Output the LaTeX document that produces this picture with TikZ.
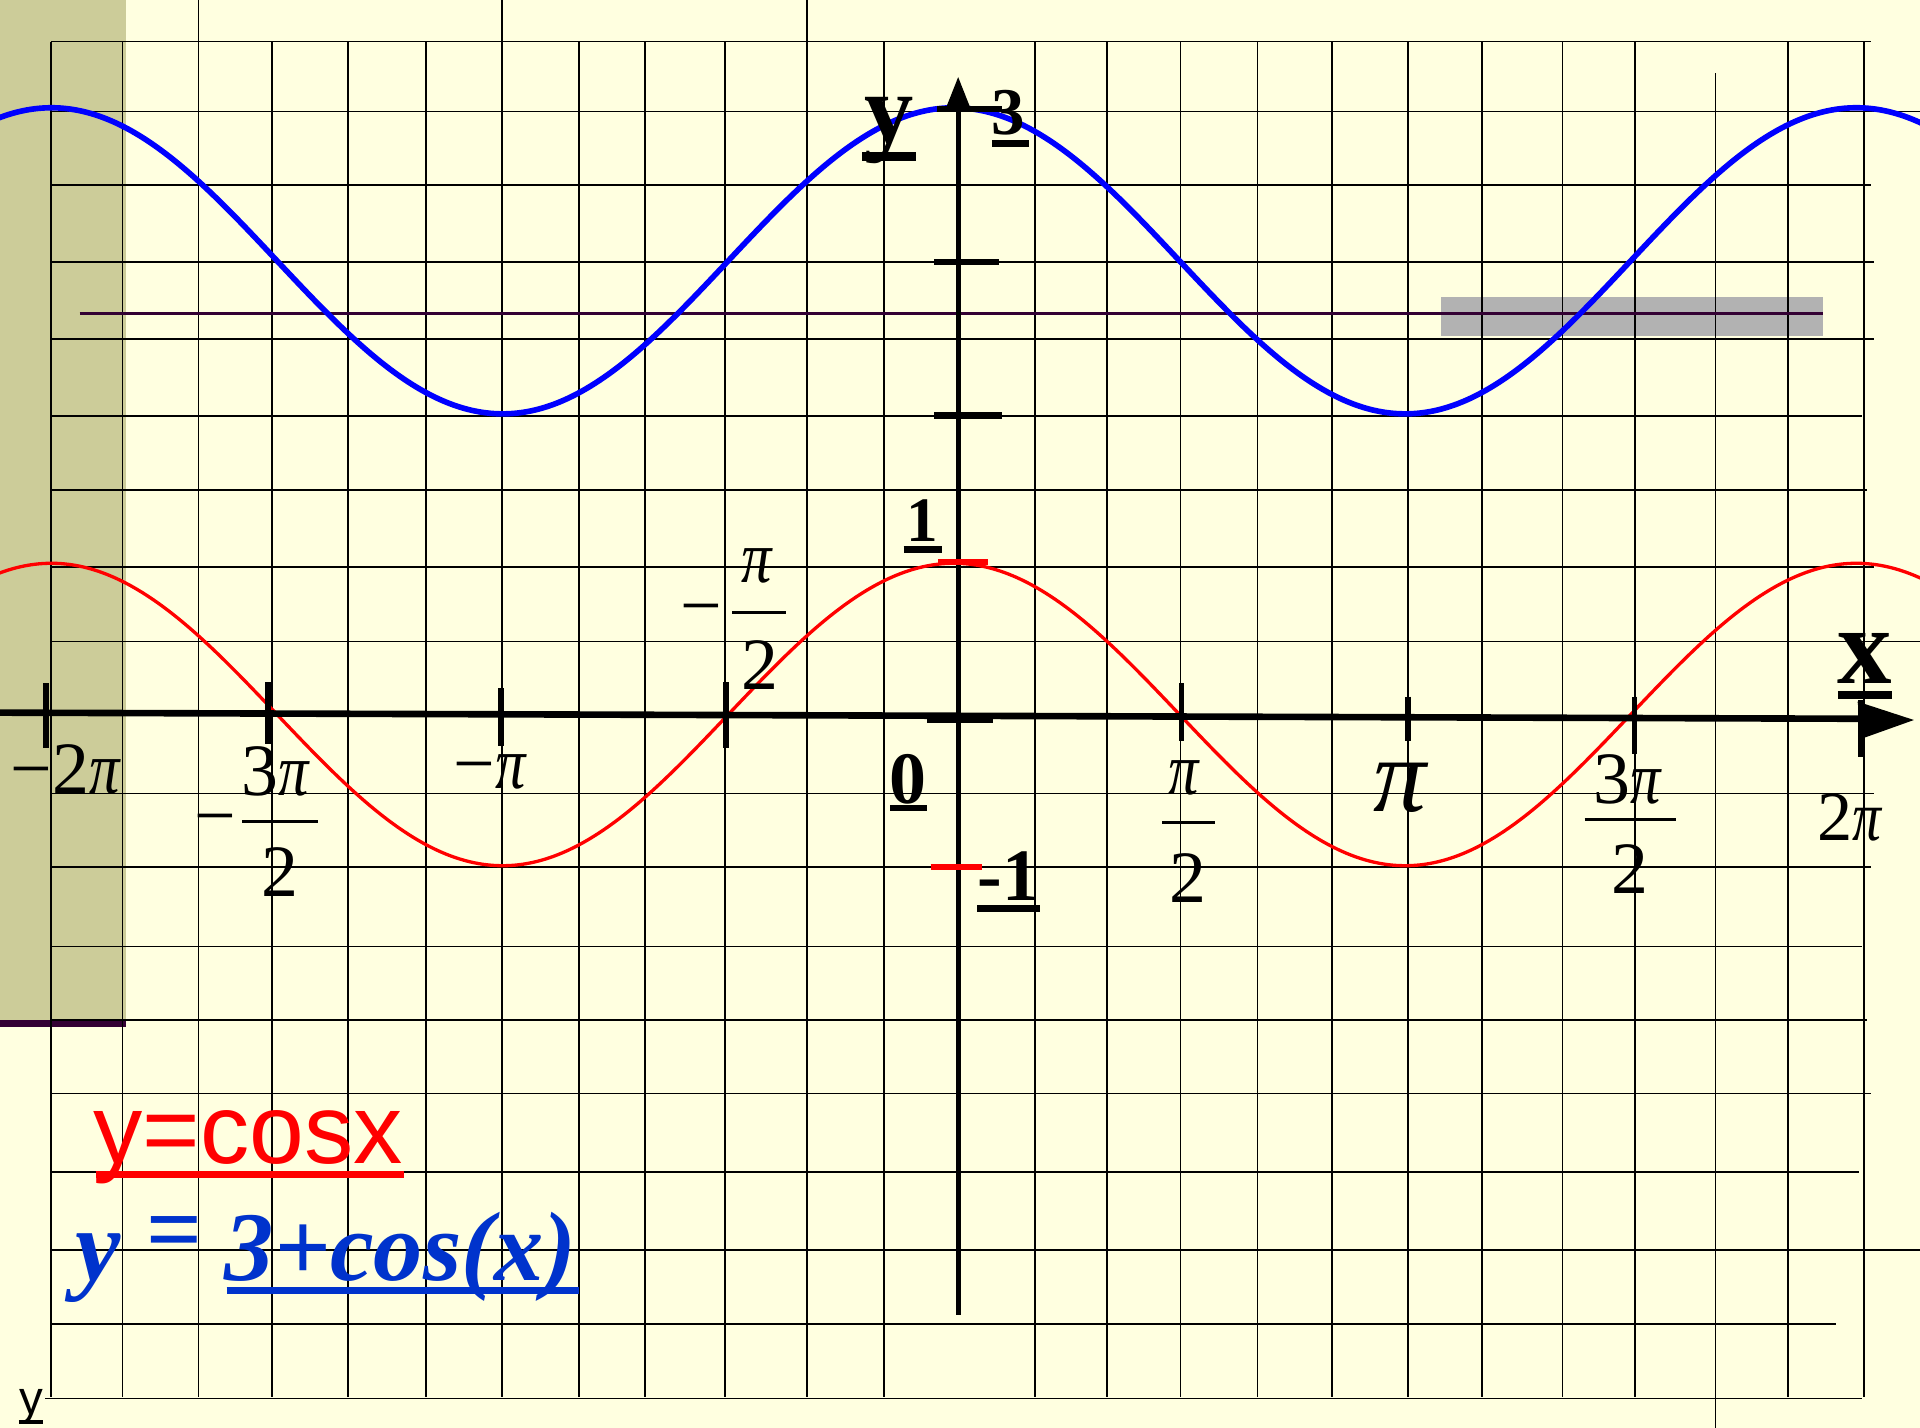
\documentclass[tikz,border=0pt]{standalone}
\usepackage{fontspec}
\usepackage{graphicx}
\setmainfont{Liberation Serif}
\newfontfamily\arialfont{Liberation Sans}
\definecolor{bgc}{HTML}{FFFFE0}
\definecolor{panelc}{HTML}{CCCC99}
\definecolor{purplec}{HTML}{330033}
\definecolor{grayc}{HTML}{B2B2B2}
\definecolor{legblue}{HTML}{0033CC}
\newcommand{\myfs}[1]{\fontsize{#1}{#1}\selectfont}
\newcommand{\mypi}{\scalebox{0.82}[1]{\itshape π}}
\begin{document}
\begin{tikzpicture}[x=0.0122449cm, y=-0.0122449cm,
  gridline/.style={black, line width=0.48pt},
  tickline/.style={black, line width=1.57pt},
  ybar/.style={line width=1.9pt},
  fracbar/.style={black, line width=0.8pt},
  uline/.style={black, line width=1.88pt},
  lbl/.style={inner sep=0pt, anchor=base},
  lblw/.style={inner sep=0pt, anchor=base west}]
\useasboundingbox (0,0) rectangle (1568,1166);
\fill[bgc] (0,0) rectangle (1568,1166);
% left panel
\fill[panelc] (0,0) rectangle (103,836);
\draw[purplec, line width=1.95pt] (0,836) -- (103,836);
% grey band
\fill[grayc] (1177,242.5) rectangle (1489,274.5);
% grid: vertical lines
\foreach \gx/\ta/\tb in {41.5/34/1141, 100/34/1141, 162/0/1141, 222/34/1141, 284/34/1141,
  348/34/1141, 410/0/1141, 473/34/1141, 527/34/1141, 592/34/1141, 659/0/1141,
  722/34/1141, 845/34/1141, 904/34/1141, 964/34/1141, 1027/34/1141, 1088/34/1141,
  1150/34/1141, 1210/34/1141, 1276/34/1141, 1335/34/1141, 1401/60/1166,
  1460/34/1141, 1522/34/1141}
  \draw[gridline] (\gx,\ta) -- (\gx,\tb);
% grid: horizontal lines
\foreach \gy/\xa/\xb in {34/41.5/1528, 91/41.5/1568, 151/41.5/1528, 214/41.5/1530,
  277/41.5/1530, 340/41.5/1521, 400/41.5/1525, 463/41.5/1530, 524/41.5/1568,
  648/41.5/1530, 708/41.5/1528, 773/41.5/1521, 833/41.5/1525, 893/41.5/1528,
  957/41.5/1518, 1021/41.5/1568, 1081/41.5/1499, 1142/37/1521}
  \draw[gridline] (\xa,\gy) -- (\xb,\gy);
% dark horizontal line
\draw[purplec, line width=1.05pt] (65,256) -- (1489,256);
% curves
\begin{scope}
\clip (0,0) rectangle (1568,1166);
\draw[blue, line width=1.6pt] plot[domain=-5:1573, samples=260, smooth]
  (\x, {213 - 125*cos(((\x-779)/368.5)*180)});
\draw[red, line width=0.94pt] plot[domain=-5:1573, samples=260, smooth]
  (\x, {583.5 - 123.5*cos(((\x-779)/368.5)*180)});
\end{scope}
% axes
\draw[black, line width=1.88pt] (0,582) -- (1521,587);
\fill[black] (1517,573) -- (1563,588) -- (1521,603) -- cycle;
\draw[black, line width=1.32pt] (783,86) -- (783,1074);
\fill[black] (773,87) -- (782.5,63) -- (792,87) -- cycle;
% x ticks
\foreach \tx/\ta/\tb in {37.5/558/611, 219/557/608, 409/562/609, 593/557/611,
  965/558/605, 1150/569/605, 1335/569/616, 1520/572/618}
  \draw[tickline] (\tx,\ta) -- (\tx,\tb);
% y bars
\draw[ybar, black] (765,89) -- (818,89);
\draw[ybar, black] (763,214) -- (816,214);
\draw[ybar, black] (763,339.5) -- (818,339.5);
\draw[ybar, black] (757,588) -- (811,588);
\draw[ybar, red] (766,459) -- (807,459);
\draw[ybar, red] (760,708) -- (802,708);
% x tick labels
\node[lblw] (lm2pi) at (8,648) {\myfs{21pt}−2\mypi};
\node[lbl] (lm3a) at (175.5,686) {\myfs{21pt}−};
\node[lbl] (lm3n) at (225,650) {\myfs{21pt}3\mypi};
\draw[fracbar] (198,671) -- (260,671);
\node[lbl] (lm3d) at (228.5,732) {\myfs{21pt}2};
\node[lblw] (lmpi) at (370,644) {\myfs{21pt}−\mypi};
\node[lbl] (lmh) at (573,515) {\myfs{21pt}−};
\node[lbl] (lmhn) at (618,476) {\myfs{21pt}\mypi};
\draw[fracbar] (598,500) -- (642,500);
\node[lbl] (lmhd) at (620.5,563) {\myfs{21pt}2};
\node[lbl] (lphn) at (966.5,649) {\myfs{21pt}\mypi};
\draw[fracbar] (949,672) -- (992,672);
\node[lbl] (lphd) at (970.5,737) {\myfs{21pt}2};
\node[lbl] (lpi) at (1143.5,663) {\myfs{30pt}{\itshape π}};
\node[lbl] (lp3n) at (1329,656) {\myfs{21pt}3\mypi};
\draw[fracbar] (1294,669) -- (1369,669);
\node[lbl] (lp3d) at (1331.5,730) {\myfs{21pt}2};
\node[lbl] (lp2pi) at (1510.5,686) {\myfs{20pt}2\mypi};
% bold axis labels
\node[lbl] (ly) at (726,116) {\myfs{28pt}\bfseries y};
\draw[black, line width=2.6pt] (704,128) -- (748,128);
\node[lbl] (l3) at (823.5,110) {\myfs{19pt}\bfseries 3};
\draw[uline] (810,117) -- (840,117);
\node[lbl] (l1) at (753,442) {\myfs{18pt}\bfseries 1};
\draw[uline] (738,449) -- (769,449);
\node[lbl] (l0) at (741.5,656) {\myfs{21pt}\bfseries 0};
\draw[uline] (727,660) -- (757,660);
\node[lbl] (lm1) at (823.5,735) {\myfs{21pt}\bfseries -1};
\draw[uline] (798,742) -- (849,742);
\node[lbl] (lx) at (1523,558) {\myfs{31pt}\bfseries x};
\draw[black, line width=2.1pt] (1501,567.6) -- (1545,567.6);
% legend
\node[lblw, text=red] (legcos) at (76,950) {\arialfont\myfs{28pt}y=cosx};
\draw[red, line width=1.95pt] (78,959) -- (330,959);
\node[lblw, text=legblue] (legy) at (61,1046) {\myfs{29pt}\bfseries\itshape y};
\node[lbl, text=legblue] (legeq) at (142.5,1031) {\myfs{28pt}\bfseries =};
\node[lblw, text=legblue] (legf) at (183,1046) {\myfs{28pt}\bfseries\itshape 3+cos(x)};
\draw[legblue, line width=2.1pt] (185,1054) -- (473,1054);
% small y bottom left
\node[lbl] (lsy) at (25.5,1155) {\arialfont\myfs{13.5pt}y};
\draw[black, line width=1.15pt] (15.5,1161) -- (35,1161);
\end{tikzpicture}
\end{document}
